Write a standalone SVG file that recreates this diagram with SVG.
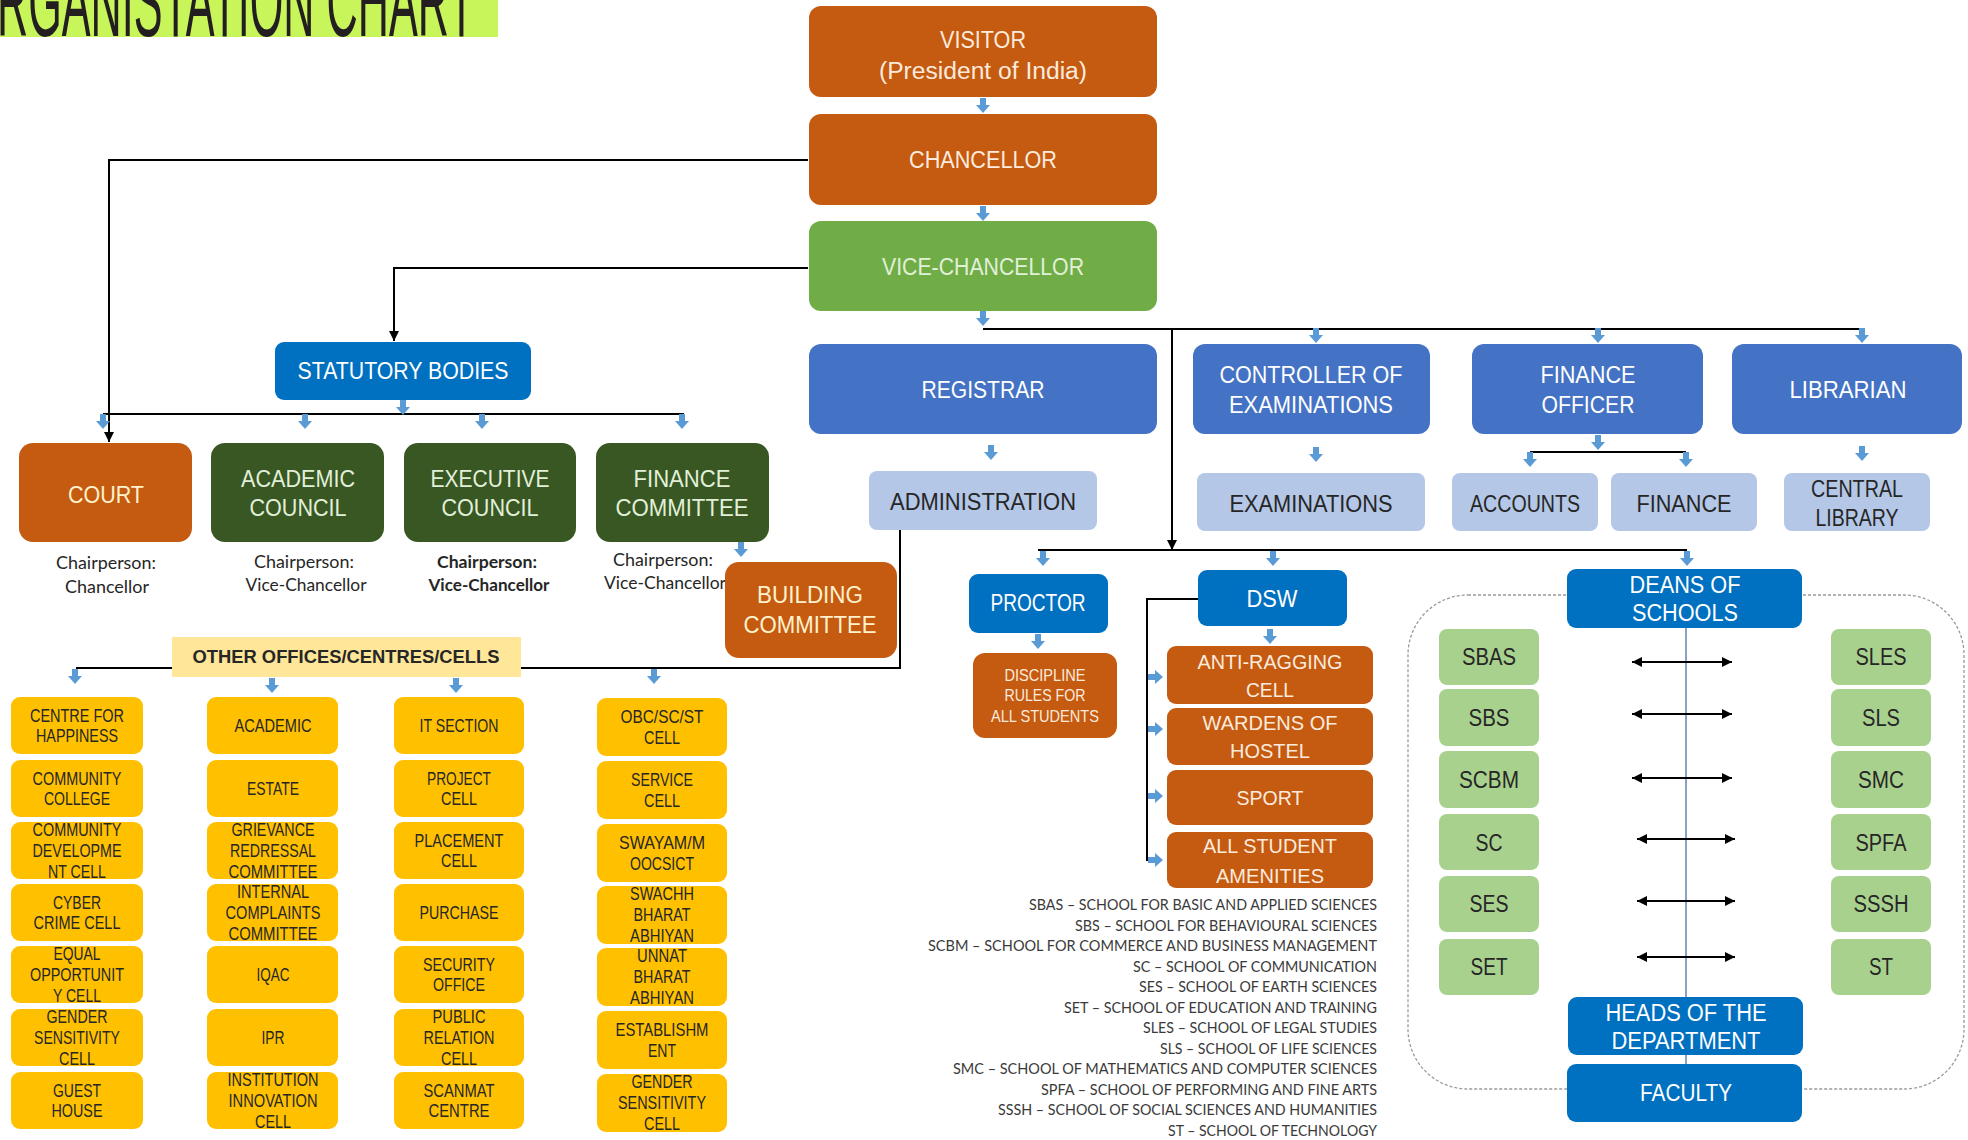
<svg xmlns="http://www.w3.org/2000/svg" xmlns:xlink="http://www.w3.org/1999/xlink" width="1968" height="1140" viewBox="0 0 1968 1140">
<style>
.t{font-family:"Liberation Sans",Arial,sans-serif;text-anchor:middle}
.s23{font-size:23px}.s21{font-size:21px}.s18{font-size:18px}.s17{font-size:17px}
.cr{fill:#FCEBDD}.cy{fill:#FFF2CC}.wh{fill:#FFFFFF}.gt{fill:#E2F0D9}.dk{fill:#262626}
.or{fill:#C55A11}.vg{fill:#70AD47}.dg{fill:#385723}.bl{fill:#0070C0}.rb{fill:#4472C4}.lb{fill:#B4C7E7}.yl{fill:#FFC000}.lg{fill:#A9D18E}.oy{fill:#FFE699}
.ch{font-family:Lato,"Liberation Sans",sans-serif;font-size:17px;fill:#262626;text-anchor:middle}
.lgd{font-family:Lato,"Liberation Sans",sans-serif;font-size:15px;fill:#3A3A3A;text-anchor:end}
.ln{fill:none;stroke:#000;stroke-width:2}
.ba{fill:#5B9BD5}
</style>
<defs>
<path id="ba" d="M-3,0 H3 V7 H7 L0,15 L-7,7 H-3 Z"/>
<marker id="ah" viewBox="0 0 10 10" refX="10" refY="5" markerWidth="5" markerHeight="5" orient="auto-start-reverse"><path d="M0,0 L10,5 L0,10 z" fill="#000"/></marker>
</defs>

<g id="title">
<rect x="0" y="0" width="498" height="37" fill="#C8F55A"/>
<text transform="translate(-3,36) scale(0.432,1)" x="0" y="0" font-family="Liberation Sans, sans-serif" font-size="100" fill="#231F20">RGANISTATION CHART</text>
</g>

<g id="schools-frame">
<rect x="1408" y="595" width="556" height="494" rx="60" fill="none" stroke="#9A9A9A" stroke-width="1.3" stroke-dasharray="3,2"/>
</g>

<g id="connectors">
<path class="ln" d="M808,160 H109 V442" marker-end="url(#ah)"/>
<path class="ln" d="M808,268 H394 V341" marker-end="url(#ah)"/>
<path class="ln" d="M983,329 H1863"/>
<path class="ln" d="M1172,329 V550" marker-end="url(#ah)"/>
<path class="ln" d="M1038,550 H1687"/>
<path class="ln" d="M103,414 H684"/>
<path class="ln" d="M1530,452 H1686"/>
<path class="ln" d="M900,530 V668 H521"/>
<path class="ln" d="M172,668 H76"/>
<path class="ln" d="M1198,599 H1147 V861"/>
<path d="M1686,628 V1064" fill="none" stroke="#5F86AE" stroke-width="1.5"/>
<path class="ln" d="M1632,662 H1732" marker-start="url(#ah)" marker-end="url(#ah)"/>
<path class="ln" d="M1632,714 H1732" marker-start="url(#ah)" marker-end="url(#ah)"/>
<path class="ln" d="M1632,778 H1732" marker-start="url(#ah)" marker-end="url(#ah)"/>
<path class="ln" d="M1637,839 H1735" marker-start="url(#ah)" marker-end="url(#ah)"/>
<path class="ln" d="M1637,901 H1735" marker-start="url(#ah)" marker-end="url(#ah)"/>
<path class="ln" d="M1637,957 H1735" marker-start="url(#ah)" marker-end="url(#ah)"/>
<g class="ba">
<use href="#ba" x="983" y="98"/><use href="#ba" x="983" y="206"/><use href="#ba" x="983" y="311"/>
<use href="#ba" x="403" y="400"/>
<use href="#ba" x="103" y="414"/><use href="#ba" x="305" y="414"/><use href="#ba" x="482" y="414"/><use href="#ba" x="682" y="414"/>
<use href="#ba" x="1316" y="328"/><use href="#ba" x="1598" y="328"/><use href="#ba" x="1862" y="328"/>
<use href="#ba" x="991" y="445"/><use href="#ba" x="1316" y="447"/><use href="#ba" x="1862" y="446"/>
<use href="#ba" x="1598" y="435"/><use href="#ba" x="1530" y="452"/><use href="#ba" x="1686" y="452"/>
<use href="#ba" x="741" y="542"/>
<use href="#ba" x="75" y="669"/><use href="#ba" x="272" y="678"/><use href="#ba" x="456" y="678"/><use href="#ba" x="654" y="669"/>
<use href="#ba" x="1043" y="551"/><use href="#ba" x="1273" y="551"/><use href="#ba" x="1687" y="551"/>
<use href="#ba" x="1038" y="634"/><use href="#ba" x="1270" y="629"/>
<use href="#ba" transform="translate(1148,677) rotate(-90)"/>
<use href="#ba" transform="translate(1148,729) rotate(-90)"/>
<use href="#ba" transform="translate(1148,796) rotate(-90)"/>
<use href="#ba" transform="translate(1148,860) rotate(-90)"/>
</g>
</g>

<g id="visitor"><rect class="or" x="809" y="6" width="348" height="91" rx="12"/>
<text class="t s23 cr" x="983" y="48" textLength="86" lengthAdjust="spacingAndGlyphs">VISITOR</text>
<text class="t s23 cr" x="983" y="79" textLength="208" lengthAdjust="spacingAndGlyphs">(President of India)</text></g>
<g id="chancellor"><rect class="or" x="809" y="114" width="348" height="91" rx="12"/>
<text class="t s23 cr" x="983" y="168" textLength="148" lengthAdjust="spacingAndGlyphs">CHANCELLOR</text></g>
<g id="vice-chancellor"><rect class="vg" x="809" y="221" width="348" height="90" rx="12"/>
<text class="t s23 gt" x="983" y="275" textLength="202" lengthAdjust="spacingAndGlyphs">VICE-CHANCELLOR</text></g>

<g id="statutory-bodies"><rect class="bl" x="275" y="342" width="256" height="58" rx="9"/>
<text class="t s23 wh" x="403" y="379" textLength="211" lengthAdjust="spacingAndGlyphs">STATUTORY BODIES</text></g>

<g id="registrar"><rect class="rb" x="809" y="344" width="348" height="90" rx="12"/>
<text class="t s23 wh" x="983" y="398" textLength="123" lengthAdjust="spacingAndGlyphs">REGISTRAR</text></g>
<g id="controller"><rect class="rb" x="1193" y="344" width="237" height="90" rx="12"/>
<text class="t s23 wh" x="1311" y="383" textLength="183" lengthAdjust="spacingAndGlyphs">CONTROLLER OF</text>
<text class="t s23 wh" x="1311" y="413" textLength="164" lengthAdjust="spacingAndGlyphs">EXAMINATIONS</text></g>
<g id="finance-officer"><rect class="rb" x="1472" y="344" width="231" height="90" rx="12"/>
<text class="t s23 wh" x="1588" y="383" textLength="95" lengthAdjust="spacingAndGlyphs">FINANCE</text>
<text class="t s23 wh" x="1588" y="413" textLength="93" lengthAdjust="spacingAndGlyphs">OFFICER</text></g>
<g id="librarian"><rect class="rb" x="1732" y="344" width="230" height="90" rx="12"/>
<text class="t s23 wh" x="1848" y="398" textLength="117" lengthAdjust="spacingAndGlyphs">LIBRARIAN</text></g>

<g id="administration"><rect class="lb" x="869" y="471" width="228" height="59" rx="8"/>
<text class="t s23 dk" x="983" y="510" textLength="186" lengthAdjust="spacingAndGlyphs">ADMINISTRATION</text></g>
<g id="examinations"><rect class="lb" x="1197" y="473" width="228" height="58" rx="8"/>
<text class="t s23 dk" x="1311" y="512" textLength="163" lengthAdjust="spacingAndGlyphs">EXAMINATIONS</text></g>
<g id="accounts"><rect class="lb" x="1452" y="473" width="146" height="58" rx="8"/>
<text class="t s23 dk" x="1525" y="512" textLength="110" lengthAdjust="spacingAndGlyphs">ACCOUNTS</text></g>
<g id="finance"><rect class="lb" x="1611" y="473" width="146" height="58" rx="8"/>
<text class="t s23 dk" x="1684" y="512" textLength="95" lengthAdjust="spacingAndGlyphs">FINANCE</text></g>
<g id="central-library"><rect class="lb" x="1784" y="473" width="146" height="58" rx="8"/>
<text class="t s23 dk" x="1857" y="497" textLength="92" lengthAdjust="spacingAndGlyphs">CENTRAL</text>
<text class="t s23 dk" x="1857" y="526" textLength="83" lengthAdjust="spacingAndGlyphs">LIBRARY</text></g>

<g id="chair-labels">
<text class="ch" x="106" y="569" textLength="100" lengthAdjust="spacingAndGlyphs">Chairperson:</text>
<text class="ch" x="107" y="593" textLength="84" lengthAdjust="spacingAndGlyphs">Chancellor</text>
<text class="ch" x="304" y="568" textLength="100" lengthAdjust="spacingAndGlyphs">Chairperson:</text>
<text class="ch" x="306" y="591" textLength="121" lengthAdjust="spacingAndGlyphs">Vice-Chancellor</text>
<text class="ch" x="487" y="568" font-weight="bold" textLength="100" lengthAdjust="spacingAndGlyphs">Chairperson:</text>
<text class="ch" x="489" y="591" font-weight="bold" textLength="121" lengthAdjust="spacingAndGlyphs">Vice-Chancellor</text>
<text class="ch" x="663" y="566" textLength="100" lengthAdjust="spacingAndGlyphs">Chairperson:</text>
<text class="ch" x="665" y="589" textLength="122" lengthAdjust="spacingAndGlyphs">Vice-Chancellor</text>
</g>

<g id="court"><rect class="or" x="19" y="443" width="173" height="99" rx="14"/>
<text class="t s23 cy" x="106" y="503" textLength="76" lengthAdjust="spacingAndGlyphs">COURT</text></g>
<g id="academic-council"><rect class="dg" x="211" y="443" width="173" height="99" rx="14"/>
<text class="t s23 gt" x="298" y="487" textLength="114" lengthAdjust="spacingAndGlyphs">ACADEMIC</text>
<text class="t s23 gt" x="298" y="516" textLength="97" lengthAdjust="spacingAndGlyphs">COUNCIL</text></g>
<g id="executive-council"><rect class="dg" x="404" y="443" width="172" height="99" rx="14"/>
<text class="t s23 gt" x="490" y="487" textLength="119" lengthAdjust="spacingAndGlyphs">EXECUTIVE</text>
<text class="t s23 gt" x="490" y="516" textLength="97" lengthAdjust="spacingAndGlyphs">COUNCIL</text></g>
<g id="finance-committee"><rect class="dg" x="596" y="443" width="173" height="99" rx="14"/>
<text class="t s23 gt" x="682" y="487" textLength="97" lengthAdjust="spacingAndGlyphs">FINANCE</text>
<text class="t s23 gt" x="682" y="516" textLength="133" lengthAdjust="spacingAndGlyphs">COMMITTEE</text></g>
<g id="building-committee"><rect class="or" x="725" y="562" width="172" height="96" rx="14"/>
<text class="t s23 cy" x="810" y="603" textLength="106" lengthAdjust="spacingAndGlyphs">BUILDING</text>
<text class="t s23 cy" x="810" y="633" textLength="133" lengthAdjust="spacingAndGlyphs">COMMITTEE</text></g>

<g id="other-offices"><rect class="oy" x="172" y="637" width="349" height="40"/>
<text class="t s18 dk" x="346" y="663" font-weight="bold" textLength="307" lengthAdjust="spacingAndGlyphs">OTHER OFFICES/CENTRES/CELLS</text></g>

<g id="col1">
<g id="centre-for-happiness"><rect class="yl" x="11" y="697" width="132" height="57" rx="9"/>
<text class="t s18 dk" x="77" y="722" textLength="94" lengthAdjust="spacingAndGlyphs">CENTRE FOR</text>
<text class="t s18 dk" x="77" y="742" textLength="82" lengthAdjust="spacingAndGlyphs">HAPPINESS</text></g>
<g id="community-college"><rect class="yl" x="11" y="760" width="132" height="57" rx="9"/>
<text class="t s18 dk" x="77" y="785" textLength="89" lengthAdjust="spacingAndGlyphs">COMMUNITY</text>
<text class="t s18 dk" x="77" y="805" textLength="66" lengthAdjust="spacingAndGlyphs">COLLEGE</text></g>
<g id="community-development-cell"><rect class="yl" x="11" y="822" width="132" height="57" rx="9"/>
<text class="t s18 dk" x="77" y="836" textLength="89" lengthAdjust="spacingAndGlyphs">COMMUNITY</text>
<text class="t s18 dk" x="77" y="857" textLength="89" lengthAdjust="spacingAndGlyphs">DEVELOPME</text>
<text class="t s18 dk" x="77" y="878" textLength="58" lengthAdjust="spacingAndGlyphs">NT CELL</text></g>
<g id="cyber-crime-cell"><rect class="yl" x="11" y="884" width="132" height="57" rx="9"/>
<text class="t s18 dk" x="77" y="909" textLength="48" lengthAdjust="spacingAndGlyphs">CYBER</text>
<text class="t s18 dk" x="77" y="929" textLength="87" lengthAdjust="spacingAndGlyphs">CRIME CELL</text></g>
<g id="equal-opportunity-cell"><rect class="yl" x="11" y="946" width="132" height="57" rx="9"/>
<text class="t s18 dk" x="77" y="960" textLength="47" lengthAdjust="spacingAndGlyphs">EQUAL</text>
<text class="t s18 dk" x="77" y="981" textLength="94" lengthAdjust="spacingAndGlyphs">OPPORTUNIT</text>
<text class="t s18 dk" x="77" y="1002" textLength="48" lengthAdjust="spacingAndGlyphs">Y CELL</text></g>
<g id="gender-sensitivity-cell-1"><rect class="yl" x="11" y="1009" width="132" height="57" rx="9"/>
<text class="t s18 dk" x="77" y="1023" textLength="61" lengthAdjust="spacingAndGlyphs">GENDER</text>
<text class="t s18 dk" x="77" y="1044" textLength="86" lengthAdjust="spacingAndGlyphs">SENSITIVITY</text>
<text class="t s18 dk" x="77" y="1065" textLength="36" lengthAdjust="spacingAndGlyphs">CELL</text></g>
<g id="guest-house"><rect class="yl" x="11" y="1072" width="132" height="57" rx="9"/>
<text class="t s18 dk" x="77" y="1097" textLength="48" lengthAdjust="spacingAndGlyphs">GUEST</text>
<text class="t s18 dk" x="77" y="1117" textLength="51" lengthAdjust="spacingAndGlyphs">HOUSE</text></g>
</g>

<g id="col2">
<g id="academic"><rect class="yl" x="207" y="697" width="131" height="57" rx="9"/>
<text class="t s18 dk" x="273" y="732" textLength="77" lengthAdjust="spacingAndGlyphs">ACADEMIC</text></g>
<g id="estate"><rect class="yl" x="207" y="760" width="131" height="57" rx="9"/>
<text class="t s18 dk" x="273" y="795" textLength="52" lengthAdjust="spacingAndGlyphs">ESTATE</text></g>
<g id="grievance"><rect class="yl" x="207" y="822" width="131" height="57" rx="9"/>
<text class="t s18 dk" x="273" y="836" textLength="83" lengthAdjust="spacingAndGlyphs">GRIEVANCE</text>
<text class="t s18 dk" x="273" y="857" textLength="86" lengthAdjust="spacingAndGlyphs">REDRESSAL</text>
<text class="t s18 dk" x="273" y="878" textLength="89" lengthAdjust="spacingAndGlyphs">COMMITTEE</text></g>
<g id="internal-complaints"><rect class="yl" x="207" y="884" width="131" height="57" rx="9"/>
<text class="t s18 dk" x="273" y="898" textLength="72" lengthAdjust="spacingAndGlyphs">INTERNAL</text>
<text class="t s18 dk" x="273" y="919" textLength="95" lengthAdjust="spacingAndGlyphs">COMPLAINTS</text>
<text class="t s18 dk" x="273" y="940" textLength="89" lengthAdjust="spacingAndGlyphs">COMMITTEE</text></g>
<g id="iqac"><rect class="yl" x="207" y="946" width="131" height="57" rx="9"/>
<text class="t s18 dk" x="273" y="981" textLength="33" lengthAdjust="spacingAndGlyphs">IQAC</text></g>
<g id="ipr"><rect class="yl" x="207" y="1009" width="131" height="57" rx="9"/>
<text class="t s18 dk" x="273" y="1044" textLength="23" lengthAdjust="spacingAndGlyphs">IPR</text></g>
<g id="institution-innovation-cell"><rect class="yl" x="207" y="1072" width="131" height="57" rx="9"/>
<text class="t s18 dk" x="273" y="1086" textLength="91" lengthAdjust="spacingAndGlyphs">INSTITUTION</text>
<text class="t s18 dk" x="273" y="1107" textLength="89" lengthAdjust="spacingAndGlyphs">INNOVATION</text>
<text class="t s18 dk" x="273" y="1128" textLength="36" lengthAdjust="spacingAndGlyphs">CELL</text></g>
</g>

<g id="col3">
<g id="it-section"><rect class="yl" x="394" y="697" width="130" height="57" rx="9"/>
<text class="t s18 dk" x="459" y="732" textLength="79" lengthAdjust="spacingAndGlyphs">IT SECTION</text></g>
<g id="project-cell"><rect class="yl" x="394" y="760" width="130" height="57" rx="9"/>
<text class="t s18 dk" x="459" y="785" textLength="64" lengthAdjust="spacingAndGlyphs">PROJECT</text>
<text class="t s18 dk" x="459" y="805" textLength="36" lengthAdjust="spacingAndGlyphs">CELL</text></g>
<g id="placement-cell"><rect class="yl" x="394" y="822" width="130" height="57" rx="9"/>
<text class="t s18 dk" x="459" y="847" textLength="89" lengthAdjust="spacingAndGlyphs">PLACEMENT</text>
<text class="t s18 dk" x="459" y="867" textLength="36" lengthAdjust="spacingAndGlyphs">CELL</text></g>
<g id="purchase"><rect class="yl" x="394" y="884" width="130" height="57" rx="9"/>
<text class="t s18 dk" x="459" y="919" textLength="79" lengthAdjust="spacingAndGlyphs">PURCHASE</text></g>
<g id="security-office"><rect class="yl" x="394" y="946" width="130" height="57" rx="9"/>
<text class="t s18 dk" x="459" y="971" textLength="72" lengthAdjust="spacingAndGlyphs">SECURITY</text>
<text class="t s18 dk" x="459" y="991" textLength="52" lengthAdjust="spacingAndGlyphs">OFFICE</text></g>
<g id="public-relation-cell"><rect class="yl" x="394" y="1009" width="130" height="57" rx="9"/>
<text class="t s18 dk" x="459" y="1023" textLength="53" lengthAdjust="spacingAndGlyphs">PUBLIC</text>
<text class="t s18 dk" x="459" y="1044" textLength="71" lengthAdjust="spacingAndGlyphs">RELATION</text>
<text class="t s18 dk" x="459" y="1065" textLength="36" lengthAdjust="spacingAndGlyphs">CELL</text></g>
<g id="scanmat-centre"><rect class="yl" x="394" y="1072" width="130" height="57" rx="9"/>
<text class="t s18 dk" x="459" y="1097" textLength="71" lengthAdjust="spacingAndGlyphs">SCANMAT</text>
<text class="t s18 dk" x="459" y="1117" textLength="61" lengthAdjust="spacingAndGlyphs">CENTRE</text></g>
</g>

<g id="col4">
<g id="obc-sc-st-cell"><rect class="yl" x="597" y="698" width="130" height="58" rx="9"/>
<text class="t s18 dk" x="662" y="723" textLength="83" lengthAdjust="spacingAndGlyphs">OBC/SC/ST</text>
<text class="t s18 dk" x="662" y="744" textLength="36" lengthAdjust="spacingAndGlyphs">CELL</text></g>
<g id="service-cell"><rect class="yl" x="597" y="761" width="130" height="58" rx="9"/>
<text class="t s18 dk" x="662" y="786" textLength="62" lengthAdjust="spacingAndGlyphs">SERVICE</text>
<text class="t s18 dk" x="662" y="807" textLength="36" lengthAdjust="spacingAndGlyphs">CELL</text></g>
<g id="swayam"><rect class="yl" x="597" y="824" width="130" height="58" rx="9"/>
<text class="t s18 dk" x="662" y="849" textLength="86" lengthAdjust="spacingAndGlyphs">SWAYAM/M</text>
<text class="t s18 dk" x="662" y="870" textLength="64" lengthAdjust="spacingAndGlyphs">OOCSICT</text></g>
<g id="swachh-bharat"><rect class="yl" x="597" y="886" width="130" height="58" rx="9"/>
<text class="t s18 dk" x="662" y="900" textLength="64" lengthAdjust="spacingAndGlyphs">SWACHH</text>
<text class="t s18 dk" x="662" y="921" textLength="57" lengthAdjust="spacingAndGlyphs">BHARAT</text>
<text class="t s18 dk" x="662" y="942" textLength="64" lengthAdjust="spacingAndGlyphs">ABHIYAN</text></g>
<g id="unnat-bharat"><rect class="yl" x="597" y="948" width="130" height="58" rx="9"/>
<text class="t s18 dk" x="662" y="962" textLength="50" lengthAdjust="spacingAndGlyphs">UNNAT</text>
<text class="t s18 dk" x="662" y="983" textLength="57" lengthAdjust="spacingAndGlyphs">BHARAT</text>
<text class="t s18 dk" x="662" y="1004" textLength="64" lengthAdjust="spacingAndGlyphs">ABHIYAN</text></g>
<g id="establishment"><rect class="yl" x="597" y="1011" width="130" height="58" rx="9"/>
<text class="t s18 dk" x="662" y="1036" textLength="93" lengthAdjust="spacingAndGlyphs">ESTABLISHM</text>
<text class="t s18 dk" x="662" y="1057" textLength="28" lengthAdjust="spacingAndGlyphs">ENT</text></g>
<g id="gender-sensitivity-cell-2"><rect class="yl" x="597" y="1074" width="130" height="58" rx="9"/>
<text class="t s18 dk" x="662" y="1088" textLength="61" lengthAdjust="spacingAndGlyphs">GENDER</text>
<text class="t s18 dk" x="662" y="1109" textLength="88" lengthAdjust="spacingAndGlyphs">SENSITIVITY</text>
<text class="t s18 dk" x="662" y="1130" textLength="36" lengthAdjust="spacingAndGlyphs">CELL</text></g>
</g>

<g id="proctor"><rect class="bl" x="969" y="574" width="139" height="59" rx="9"/>
<text class="t s23 wh" x="1038" y="611" textLength="95" lengthAdjust="spacingAndGlyphs">PROCTOR</text></g>
<g id="discipline-rules"><rect class="or" x="973" y="653" width="144" height="85" rx="12"/>
<text class="t s17 cr" x="1045" y="681" textLength="81" lengthAdjust="spacingAndGlyphs">DISCIPLINE</text>
<text class="t s17 cr" x="1045" y="701" textLength="81" lengthAdjust="spacingAndGlyphs">RULES FOR</text>
<text class="t s17 cr" x="1045" y="722" textLength="108" lengthAdjust="spacingAndGlyphs">ALL STUDENTS</text></g>
<g id="dsw"><rect class="bl" x="1198" y="570" width="149" height="56" rx="9"/>
<text class="t s23 wh" x="1272" y="607" textLength="51" lengthAdjust="spacingAndGlyphs">DSW</text></g>
<g id="anti-ragging-cell"><rect class="or" x="1167" y="646" width="206" height="58" rx="9"/>
<text class="t s21 cr" x="1270" y="669" textLength="145" lengthAdjust="spacingAndGlyphs">ANTI-RAGGING</text>
<text class="t s21 cr" x="1270" y="697" textLength="48" lengthAdjust="spacingAndGlyphs">CELL</text></g>
<g id="wardens-of-hostel"><rect class="or" x="1167" y="708" width="206" height="57" rx="9"/>
<text class="t s21 cr" x="1270" y="730" textLength="135" lengthAdjust="spacingAndGlyphs">WARDENS OF</text>
<text class="t s21 cr" x="1270" y="758" textLength="80" lengthAdjust="spacingAndGlyphs">HOSTEL</text></g>
<g id="sport"><rect class="or" x="1167" y="770" width="206" height="55" rx="9"/>
<text class="t s21 cr" x="1270" y="805" textLength="67" lengthAdjust="spacingAndGlyphs">SPORT</text></g>
<g id="all-student-amenities"><rect class="or" x="1167" y="832" width="206" height="56" rx="9"/>
<text class="t s21 cr" x="1270" y="853" textLength="134" lengthAdjust="spacingAndGlyphs">ALL STUDENT</text>
<text class="t s21 cr" x="1270" y="883" textLength="108" lengthAdjust="spacingAndGlyphs">AMENITIES</text></g>

<g id="legend">
<text class="lgd" x="1377" y="910" textLength="348" lengthAdjust="spacingAndGlyphs">SBAS – SCHOOL FOR BASIC AND APPLIED SCIENCES</text>
<text class="lgd" x="1377" y="931" textLength="302" lengthAdjust="spacingAndGlyphs">SBS – SCHOOL FOR BEHAVIOURAL SCIENCES</text>
<text class="lgd" x="1377" y="951" textLength="449" lengthAdjust="spacingAndGlyphs">SCBM – SCHOOL FOR COMMERCE AND BUSINESS MANAGEMENT</text>
<text class="lgd" x="1377" y="972" textLength="244" lengthAdjust="spacingAndGlyphs">SC – SCHOOL OF COMMUNICATION</text>
<text class="lgd" x="1377" y="992" textLength="238" lengthAdjust="spacingAndGlyphs">SES – SCHOOL OF EARTH SCIENCES</text>
<text class="lgd" x="1377" y="1013" textLength="313" lengthAdjust="spacingAndGlyphs">SET – SCHOOL OF EDUCATION AND TRAINING</text>
<text class="lgd" x="1377" y="1033" textLength="234" lengthAdjust="spacingAndGlyphs">SLES – SCHOOL OF LEGAL STUDIES</text>
<text class="lgd" x="1377" y="1054" textLength="217" lengthAdjust="spacingAndGlyphs">SLS – SCHOOL OF LIFE SCIENCES</text>
<text class="lgd" x="1377" y="1074" textLength="424" lengthAdjust="spacingAndGlyphs">SMC – SCHOOL OF MATHEMATICS AND COMPUTER SCIENCES</text>
<text class="lgd" x="1377" y="1095" textLength="336" lengthAdjust="spacingAndGlyphs">SPFA – SCHOOL OF PERFORMING AND FINE ARTS</text>
<text class="lgd" x="1377" y="1115" textLength="379" lengthAdjust="spacingAndGlyphs">SSSH – SCHOOL OF SOCIAL SCIENCES AND HUMANITIES</text>
<text class="lgd" x="1377" y="1136" textLength="209" lengthAdjust="spacingAndGlyphs">ST – SCHOOL OF TECHNOLOGY</text>
</g>

<g id="deans-of-schools"><rect class="bl" x="1567" y="569" width="235" height="59" rx="9"/>
<text class="t s23 wh" x="1685" y="593" textLength="111" lengthAdjust="spacingAndGlyphs">DEANS OF</text>
<text class="t s23 wh" x="1685" y="621" textLength="106" lengthAdjust="spacingAndGlyphs">SCHOOLS</text></g>
<g id="heads-of-department"><rect class="bl" x="1568" y="997" width="235" height="58" rx="9"/>
<text class="t s23 wh" x="1686" y="1021" textLength="161" lengthAdjust="spacingAndGlyphs">HEADS OF THE</text>
<text class="t s23 wh" x="1686" y="1049" textLength="149" lengthAdjust="spacingAndGlyphs">DEPARTMENT</text></g>
<g id="faculty"><rect class="bl" x="1567" y="1064" width="235" height="58" rx="9"/>
<text class="t s23 wh" x="1686" y="1101" textLength="92" lengthAdjust="spacingAndGlyphs">FACULTY</text></g>

<g id="sbas"><rect class="lg" x="1439" y="629" width="100" height="56" rx="8"/><text class="t s23 dk" x="1489" y="665" textLength="54" lengthAdjust="spacingAndGlyphs">SBAS</text></g>
<g id="sbs"><rect class="lg" x="1439" y="689" width="100" height="57" rx="8"/><text class="t s23 dk" x="1489" y="726" textLength="41" lengthAdjust="spacingAndGlyphs">SBS</text></g>
<g id="scbm"><rect class="lg" x="1439" y="751" width="100" height="57" rx="8"/><text class="t s23 dk" x="1489" y="788" textLength="60" lengthAdjust="spacingAndGlyphs">SCBM</text></g>
<g id="sc"><rect class="lg" x="1439" y="814" width="100" height="56" rx="8"/><text class="t s23 dk" x="1489" y="851" textLength="27" lengthAdjust="spacingAndGlyphs">SC</text></g>
<g id="ses"><rect class="lg" x="1439" y="876" width="100" height="56" rx="8"/><text class="t s23 dk" x="1489" y="912" textLength="39" lengthAdjust="spacingAndGlyphs">SES</text></g>
<g id="set"><rect class="lg" x="1439" y="939" width="100" height="56" rx="8"/><text class="t s23 dk" x="1489" y="975" textLength="37" lengthAdjust="spacingAndGlyphs">SET</text></g>
<g id="sles"><rect class="lg" x="1831" y="629" width="100" height="56" rx="8"/><text class="t s23 dk" x="1881" y="665" textLength="51" lengthAdjust="spacingAndGlyphs">SLES</text></g>
<g id="sls"><rect class="lg" x="1831" y="689" width="100" height="57" rx="8"/><text class="t s23 dk" x="1881" y="726" textLength="38" lengthAdjust="spacingAndGlyphs">SLS</text></g>
<g id="smc"><rect class="lg" x="1831" y="751" width="100" height="57" rx="8"/><text class="t s23 dk" x="1881" y="788" textLength="46" lengthAdjust="spacingAndGlyphs">SMC</text></g>
<g id="spfa"><rect class="lg" x="1831" y="814" width="100" height="56" rx="8"/><text class="t s23 dk" x="1881" y="851" textLength="51" lengthAdjust="spacingAndGlyphs">SPFA</text></g>
<g id="sssh"><rect class="lg" x="1831" y="876" width="100" height="56" rx="8"/><text class="t s23 dk" x="1881" y="912" textLength="55" lengthAdjust="spacingAndGlyphs">SSSH</text></g>
<g id="st"><rect class="lg" x="1831" y="939" width="100" height="56" rx="8"/><text class="t s23 dk" x="1881" y="975" textLength="24" lengthAdjust="spacingAndGlyphs">ST</text></g>
</svg>
